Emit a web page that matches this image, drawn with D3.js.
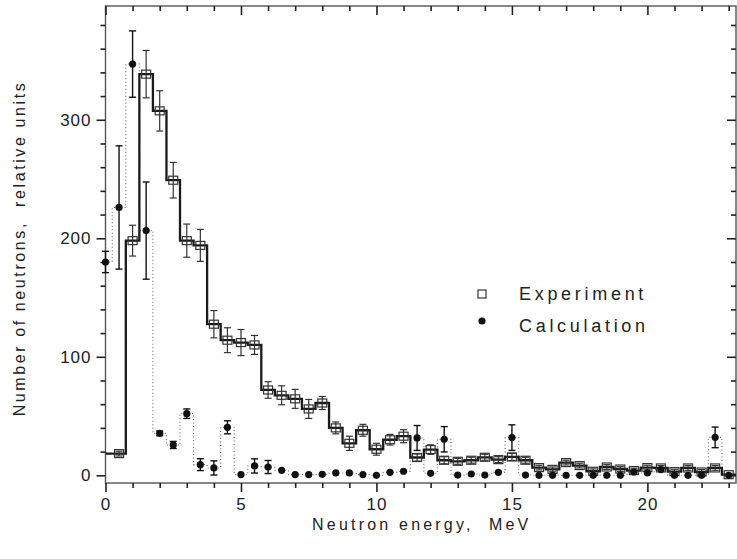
<!DOCTYPE html>
<html><head><meta charset="utf-8">
<script src="https://cdn.jsdelivr.net/npm/d3@7"></script>
<style>
body{margin:0;background:#fff;}
svg{display:block;font-family:"Liberation Sans",Arial,sans-serif;}
</style></head>
<body>
<svg id="chart" width="737" height="559"></svg>
<script>
// ---- data ----
const expEnergy = [0.5,1.0,1.5,2.0,2.5,3.0,3.5,4.0,4.5,5.0,5.5,6.0,6.5,7.0,7.5,8.0,8.5,9.0,9.5,10.0,10.5,11.0,11.5,12.0,12.5,13.0,13.5,14.0,14.5,15.0,15.5,16.0,16.5,17.0,17.5,18.0,18.5,19.0,19.5,20.0,20.5,21.0,21.5,22.0,22.5,23.0];
const expValues = [18.3,198,338.5,307.5,249,198,194,127.5,114,112,110,72,67.5,64.5,56,61,40,27,38,22,30,33,15,21.7,12.7,11.8,12.7,15.2,13.2,15.5,12.7,6.5,5,10.7,8.2,3.4,7,5.3,4,6.5,6.2,3.1,6.2,2.8,6.2,0.5];
const expErrors = [2,13,20,17,15,14,13.5,11.5,10.5,11,8,7,8,8,8,5.5,5,6,5,5,4.5,5.5,3,4,3,2.5,2.5,2.5,2.5,3,2.5,2,2,2,2,2,2,2,2,2,2,2,2,2,2,0];

const calcEnergy = [0,0.5,1.0,1.5,2.0,2.5,3.0,3.5,4.0,4.5,5.0,5.5,6.0,6.5,7.0,7.5,8.0,8.5,9.0,9.5,10.0,10.5,11.0,11.5,12.0,12.5,13.0,13.5,14.0,14.5,15.0,15.5,16.0,16.5,17.0,17.5,18.0,18.5,19.0,19.5,20.0,20.5,21.0,21.5,22.0,22.5,23.0];
const calcValues = [180,226,347,206.5,35.4,25.6,52,9,6.2,40.5,0.6,7.9,7,4.2,0.6,0.6,0.8,2,2,0.6,0,2.5,3.4,31.5,1.7,30.4,0.2,1.1,0.2,2.5,31.8,0.2,0,0,0,0,0,0,0,2.8,2,4.8,0,0,0,32,0];
const calcErrors = [9,52,28,41,2,3,4,5,6,5.5,0,6,5.5,0,0,0,0,0,0,0,0,0,0,10.5,0,10.7,0,0,0,0,10.8,0,0,0,0,0,0,0,0,0,0,0,0,0,0,8.7,0];

const xMajorTicks = [0,5,10,15,20];
const xMinorTicks = [1,2,3,4,6,7,8,9,11,12,13,14,16,17,18,19,21,22,23];
const yMajorTicks = [0,100,200,300];
const yMinorTicks = [20,40,60,80,120,140,160,180,220,240,260,280,320,340,360,380];

const legendLabels = ["Experiment","Calculation"];
const xTitle = "Neutron energy,  MeV";
const yTitle = "Number of neutrons,  relative units";

// ---- layout ----
const L = 105.5, R = 736, T = 6, B = 483;
const svg = d3.select("#chart");
const x = d3.scaleLinear().domain([0, 23.27]).range([L, R]);
const y = d3.scaleLinear().domain([-6.5, 396]).range([B, T]);

const exp = expEnergy.map((e,i)=>({e, v:expValues[i], err:expErrors[i]}));
const calc = calcEnergy.map((e,i)=>({e, v:calcValues[i], err:calcErrors[i]}));

// frame
svg.append("rect").attr("x",L).attr("y",T).attr("width",R-L).attr("height",B-T)
  .attr("fill","none").attr("stroke","#555").attr("stroke-width",1.4);

function styleAxis(g){
  g.select(".domain").remove();
  g.selectAll(".tick line").attr("stroke","#222").attr("stroke-width",1.6);
  g.selectAll(".tick text").attr("fill","#222").style("font-size","17px").style("letter-spacing","1px")
   .style("font-family","'Liberation Sans',Arial,sans-serif");
}
// bottom
svg.append("g").attr("transform",`translate(0,${B})`)
  .call(d3.axisBottom(x).tickValues(xMinorTicks).tickSize(5).tickFormat("")).call(styleAxis);
svg.append("g").attr("transform",`translate(0,${B})`)
  .call(d3.axisBottom(x).tickValues(xMajorTicks).tickSize(9).tickPadding(6).tickFormat(d3.format("d"))).call(styleAxis);
// top (inward)
svg.append("g").attr("transform",`translate(0,${T})`)
  .call(d3.axisTop(x).tickValues(xMinorTicks).tickSize(-5).tickFormat("")).call(styleAxis);
svg.append("g").attr("transform",`translate(0,${T})`)
  .call(d3.axisTop(x).tickValues(xMajorTicks).tickSize(-9).tickFormat("")).call(styleAxis);
// left
svg.append("g").attr("transform",`translate(${L},0)`)
  .call(d3.axisLeft(y).tickValues(yMinorTicks).tickSize(5).tickFormat("")).call(styleAxis);
svg.append("g").attr("transform",`translate(${L},0)`)
  .call(d3.axisLeft(y).tickValues(yMajorTicks).tickSize(9).tickPadding(5).tickFormat(d3.format("d"))).call(styleAxis);
// right (inward)
svg.append("g").attr("transform",`translate(${R},0)`)
  .call(d3.axisRight(y).tickValues(yMinorTicks).tickSize(-5).tickFormat("")).call(styleAxis);
svg.append("g").attr("transform",`translate(${R},0)`)
  .call(d3.axisRight(y).tickValues(yMajorTicks).tickSize(-9).tickFormat("")).call(styleAxis);

// titles
svg.append("text").attr("x",(L+R)/2+1).attr("y",530).attr("text-anchor","middle")
  .style("white-space","pre").attr("xml:space","preserve")
  .style("font-size","16px").style("letter-spacing","3.2px").attr("fill","#222").text(xTitle);
svg.append("text").attr("transform",`translate(25,${(T+B)/2+4}) rotate(-90)`).attr("text-anchor","middle")
  .style("white-space","pre").attr("xml:space","preserve")
  .style("font-size","16px").style("letter-spacing","2.6px").attr("fill","#222").text(yTitle);

// calc dotted step line
const calcPts = calc.map(d=>[d.e,d.v]);
svg.append("path").datum(calcPts)
  .attr("d", d3.line().x(d=>x(d[0])).y(d=>y(d[1])).curve(d3.curveStep))
  .attr("fill","none").attr("stroke","#666").attr("stroke-width",1.1).attr("stroke-dasharray","1,2.5");

// exp step line
const expPts = [[0, exp[0].v]].concat(exp.map(d=>[d.e,d.v])).concat([[x.domain()[1], exp[exp.length-1].v]]);
svg.append("path").datum(expPts)
  .attr("d", d3.line().x(d=>x(d[0])).y(d=>y(d[1])).curve(d3.curveStep))
  .attr("fill","none").attr("stroke","#1a1a1a").attr("stroke-width",2.3);

// error bars
function errBars(data, color, w){
  const g = svg.append("g").attr("stroke",color).attr("stroke-width",w).attr("fill","none");
  data.filter(d=>d.err>0).forEach(d=>{
    const cx = x(d.e), y1 = y(d.v+d.err), y2 = y(d.v-d.err);
    g.append("line").attr("x1",cx).attr("x2",cx).attr("y1",y1).attr("y2",y2);
    g.append("line").attr("x1",cx-3.5).attr("x2",cx+3.5).attr("y1",y1).attr("y2",y1);
    g.append("line").attr("x1",cx-3.5).attr("x2",cx+3.5).attr("y1",y2).attr("y2",y2);
  });
}
errBars(exp, "#333", 1.2);
errBars(calc, "#111", 1.4);

// exp boxes
svg.append("g").selectAll("rect").data(exp).join("rect")
  .attr("x",d=>x(d.e)-4.5).attr("y",d=>y(d.v)-4).attr("width",9).attr("height",8)
  .attr("fill","none").attr("stroke","#333").attr("stroke-width",1.2);

// calc dots
svg.append("g").selectAll("circle").data(calc).join("circle")
  .attr("cx",d=>x(d.e)).attr("cy",d=>y(d.v)).attr("r",3.6).attr("fill","#111");

// legend
const lg = svg.append("g");
lg.append("rect").attr("x",478).attr("y",290).attr("width",8).attr("height",8)
  .attr("fill","none").attr("stroke","#333").attr("stroke-width",1.2);
lg.append("circle").attr("cx",482).attr("cy",321).attr("r",3.6).attr("fill","#111");
lg.selectAll("text").data(legendLabels).join("text")
  .attr("x",519).attr("y",(d,i)=>300+i*32)
  .style("font-size","18px").style("letter-spacing","3.7px").attr("fill","#222").text(d=>d);
</script>
</body></html>
